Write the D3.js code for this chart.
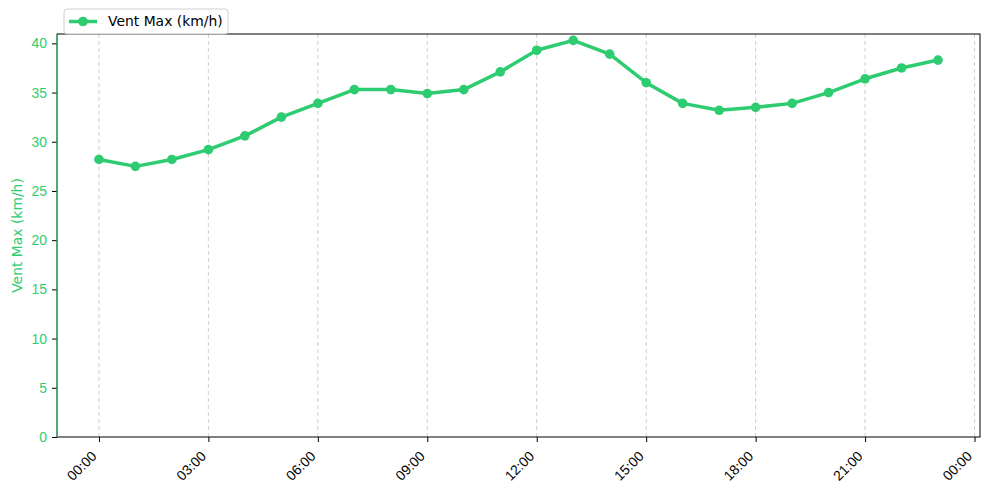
<!DOCTYPE html>
<html>
<head>
<meta charset="utf-8">
<script src="https://cdn.jsdelivr.net/npm/d3@7"></script>
<style>
  body { margin: 0; background: #fff; }
  svg { font-family: "DejaVu Sans", sans-serif; }
</style>
</head>
<body>
<div id="chart"></div>
<script>
const hours = d3.range(0, 24);
const ventMax = [28.2, 27.5, 28.2, 29.2, 30.6, 32.5, 33.9, 35.3, 35.3, 34.9, 35.3, 37.1,
                 39.3, 40.3, 38.9, 36.0, 33.9, 33.2, 33.5, 33.9, 35.0, 36.4, 37.5, 38.3];
const xTicks = [0, 3, 6, 9, 12, 15, 18, 21, 24];
const yTicks = [0, 5, 10, 15, 20, 25, 30, 35, 40];
const seriesLabel = 'Vent Max (km/h)';

const green = '#2ecc71';
const fontSize = '13.9px';
const width = 989, height = 494;
const margin = { left: 57, right: 9, top: 34, bottom: 57 };
const innerWidth = width - margin.left - margin.right;
const innerHeight = height - margin.top - margin.bottom;

const data = hours.map((h, i) => ({ h: h, v: ventMax[i] }));

const svg = d3.select('#chart').append('svg')
    .attr('width', width)
    .attr('height', height);

const g = svg.append('g')
    .attr('transform', `translate(${margin.left},${margin.top})`);

const xScale = d3.scaleLinear()
    .domain([-1.15, 24.15])
    .range([0, innerWidth]);
const yScale = d3.scaleLinear()
    .domain([0, 40.95])
    .range([innerHeight, 0]);

// vertical dashed grid
g.selectAll('line.grid').data(xTicks)
    .enter()
    .append('line')
    .attr('class', 'grid')
    .attr('x1', d => xScale(d))
    .attr('x2', d => xScale(d))
    .attr('y1', 0)
    .attr('y2', innerHeight)
    .attr('stroke', '#c8c8c8')
    .attr('stroke-width', 0.9)
    .attr('stroke-dasharray', '4,3');

const fmt = h => String(h % 24).padStart(2, '0') + ':00';

const xAxis = d3.axisBottom(xScale)
    .tickValues(xTicks)
    .tickFormat(fmt)
    .tickSize(5)
    .tickPadding(4);
const yAxis = d3.axisLeft(yScale)
    .tickValues(yTicks)
    .tickSize(5)
    .tickPadding(5);

const xAxisG = g.append('g')
    .attr('transform', `translate(0,${innerHeight})`)
    .call(xAxis);
xAxisG.select('.domain').remove();
xAxisG.selectAll('line').attr('stroke', '#000');
xAxisG.selectAll('text')
    .attr('fill', '#000')
    .attr('x', 0)
    .attr('y', 0)
    .attr('dy', 0)
    .style('font-size', fontSize)
    .style('text-anchor', 'end')
    .attr('transform', 'translate(-2,20) rotate(-45)');

const yAxisG = g.append('g').call(yAxis);
yAxisG.select('.domain').remove();
yAxisG.selectAll('line').attr('stroke', '#000');
yAxisG.selectAll('text')
    .attr('fill', green)
    .style('font-size', fontSize);

// spines
g.append('rect')
    .attr('width', innerWidth)
    .attr('height', innerHeight)
    .attr('fill', 'none')
    .attr('stroke', '#000')
    .attr('stroke-width', 1);
g.append('line')
    .attr('x1', 0).attr('x2', 0)
    .attr('y1', 0).attr('y2', innerHeight)
    .attr('stroke', green)
    .attr('stroke-width', 1);

g.append('text')
    .attr('x', -innerHeight / 2)
    .attr('y', -35)
    .attr('transform', 'rotate(-90)')
    .style('text-anchor', 'middle')
    .style('font-size', fontSize)
    .attr('fill', green)
    .text(seriesLabel);

const line = d3.line()
    .x(d => xScale(d.h))
    .y(d => yScale(d.v));

g.append('path')
    .datum(data)
    .attr('d', line)
    .attr('fill', 'none')
    .attr('stroke', green)
    .attr('stroke-width', 3.5)
    .attr('stroke-linejoin', 'round');

g.selectAll('circle.pt').data(data)
    .enter()
    .append('circle')
    .attr('class', 'pt')
    .attr('cx', d => xScale(d.h))
    .attr('cy', d => yScale(d.v))
    .attr('r', 4.8)
    .attr('fill', green);

// legend
const legend = svg.append('g').attr('transform', 'translate(64,9)');
legend.append('rect')
    .attr('width', 164)
    .attr('height', 25)
    .attr('rx', 3)
    .attr('fill', 'rgba(255,255,255,0.8)')
    .attr('stroke', '#d0d0d0');
legend.append('line')
    .attr('x1', 5).attr('x2', 33)
    .attr('y1', 12.5).attr('y2', 12.5)
    .attr('stroke', green)
    .attr('stroke-width', 3.5);
legend.append('circle')
    .attr('cx', 19).attr('cy', 12.5)
    .attr('r', 4.8)
    .attr('fill', green);
legend.append('text')
    .attr('x', 44).attr('y', 12.5)
    .attr('dy', '0.35em')
    .style('font-size', fontSize)
    .attr('fill', '#000')
    .text(seriesLabel);
</script>
</body>
</html>
